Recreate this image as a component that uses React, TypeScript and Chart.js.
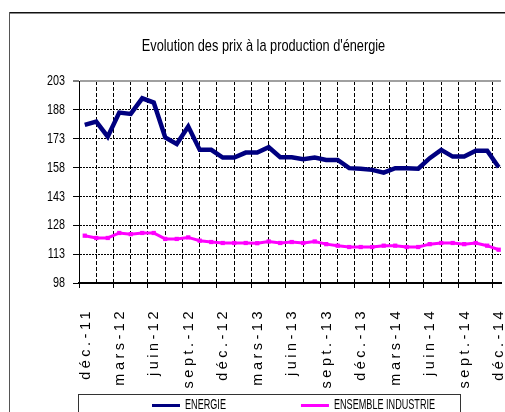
import React, { useEffect, useRef } from "react";
import { Chart, registerables } from "chart.js";

Chart.register(...registerables);

const TITLE = "Evolution des prix à la production d'énergie";

const categories = [
  "déc.-11",
  "janv.-12", "févr.-12", "mars-12", "avr.-12", "mai-12", "juin-12",
  "juil.-12", "août-12", "sept.-12", "oct.-12", "nov.-12", "déc.-12",
  "janv.-13", "févr.-13", "mars-13", "avr.-13", "mai-13", "juin-13",
  "juil.-13", "août-13", "sept.-13", "oct.-13", "nov.-13", "déc.-13",
  "janv.-14", "févr.-14", "mars-14", "avr.-14", "mai-14", "juin-14",
  "juil.-14", "août-14", "sept.-14", "oct.-14", "nov.-14", "déc.-14",
];

const energie = [
  180.2, 181.9, 174.1, 186.6, 185.9, 194.0, 191.8, 173.6, 170.3, 179.3,
  167.2, 167.2, 163.2, 163.2, 165.8, 165.8, 168.6, 163.4, 163.4, 162.4,
  163.2, 162.0, 162.0, 157.7, 157.4, 156.8, 155.4, 157.7, 157.7, 157.4,
  162.9, 167.2, 163.7, 163.7, 166.8, 166.8, 158.2,
];

const industrie = [
  122.6, 121.4, 121.4, 124.0, 123.4, 124.0, 124.0, 120.9, 120.9, 121.7,
  120.0, 119.3, 118.8, 118.8, 118.8, 118.7, 119.6, 118.8, 119.3, 118.8,
  119.6, 118.2, 117.4, 116.7, 116.7, 116.7, 117.4, 117.4, 116.7, 116.7,
  118.2, 118.8, 118.8, 118.2, 118.8, 117.4, 115.3,
];

const xTickLabels = [
  "déc.-11", "mars-12", "juin-12", "sept.-12", "déc.-12", "mars-13", "juin-13",
  "sept.-13", "déc.-13", "mars-14", "juin-14", "sept.-14", "déc.-14",
];

const yTicks = [98, 113, 128, 143, 158, 173, 188, 203];

const FONT = "'Liberation Sans', Arial, Helvetica, sans-serif";
const X_LABEL_SIZE = 14.5;
const LETTER_SPACING = "3.5px";
const SQUEEZE: Record<string, number> = { "17": 0.75, "15": 0.72, "14": 0.65 };

function fontSizeOf(ctx: any): string {
  const m = /(\d+(?:\.\d+)?)px/.exec(ctx.font);
  return m ? m[1] : "";
}

function patchContext(ctx: any) {
  if (ctx.__patched) return;
  ctx.__patched = true;
  const fill = ctx.fillText.bind(ctx);
  const measure = ctx.measureText.bind(ctx);
  ctx.measureText = (text: string) => {
    const s = fontSizeOf(ctx);
    if (s === String(X_LABEL_SIZE)) {
      const prev = ctx.letterSpacing;
      ctx.letterSpacing = LETTER_SPACING;
      const r = measure(text);
      ctx.letterSpacing = prev;
      return r;
    }
    const f = SQUEEZE[s];
    const r = measure(text);
    if (!f) return r;
    return {
      width: r.width * f,
      actualBoundingBoxAscent: r.actualBoundingBoxAscent,
      actualBoundingBoxDescent: r.actualBoundingBoxDescent,
      actualBoundingBoxLeft: r.actualBoundingBoxLeft * f,
      actualBoundingBoxRight: r.actualBoundingBoxRight * f,
      fontBoundingBoxAscent: r.fontBoundingBoxAscent,
      fontBoundingBoxDescent: r.fontBoundingBoxDescent,
    };
  };
  ctx.fillText = (text: string, x: number, y: number, maxWidth?: number) => {
    const s = fontSizeOf(ctx);
    if (s === String(X_LABEL_SIZE)) {
      const prev = ctx.letterSpacing;
      ctx.letterSpacing = LETTER_SPACING;
      if (maxWidth === undefined) fill(text, x, y);
      else fill(text, x, y, maxWidth);
      ctx.letterSpacing = prev;
      return;
    }
    const f = SQUEEZE[s];
    if (!f) {
      if (maxWidth === undefined) fill(text, x, y);
      else fill(text, x, y, maxWidth);
      return;
    }
    ctx.save();
    ctx.translate(x, y);
    ctx.scale(f, 1);
    if (maxWidth === undefined) fill(text, 0, 0);
    else fill(text, 0, 0, maxWidth / f);
    ctx.restore();
  };
}

const framePlugin = {
  id: "frame",
  beforeDraw(chart: any) {
    const { ctx, width, height } = chart;
    ctx.save();
    ctx.fillStyle = "#ffffff";
    ctx.fillRect(0, 0, width, height);
    ctx.strokeStyle = "#111";
    ctx.lineWidth = 1.5;
    ctx.beginPath();
    ctx.moveTo(9, 12.75);
    ctx.lineTo(width, 12.75);
    ctx.stroke();
    ctx.strokeStyle = "#555";
    ctx.lineWidth = 1;
    ctx.beginPath();
    ctx.moveTo(9.5, 12);
    ctx.lineTo(9.5, height);
    ctx.stroke();
    ctx.restore();
  },
};

const legendBoxPlugin = {
  id: "legendBox",
  afterDraw(chart: any) {
    const { ctx, chartArea } = chart;
    const top = chart.scales.x.bottom;
    ctx.save();
    ctx.strokeStyle = "#333";
    ctx.lineWidth = 1;
    ctx.strokeRect(Math.round(chartArea.left) - 0.5, Math.round(top) + 0.5, 382, 40);
    ctx.font = "14px " + FONT;
    ctx.textBaseline = "middle";
    ctx.textAlign = "left";
    let x = chartArea.left + 73;
    const y = top + 11.5;
    chart.data.datasets.forEach((ds: any) => {
      ctx.strokeStyle = ds.borderColor;
      ctx.lineWidth = 3;
      ctx.beginPath();
      ctx.moveTo(x, y);
      ctx.lineTo(x + 28, y);
      ctx.stroke();
      ctx.fillStyle = "#000";
      ctx.fillText(ds.label, x + 33, y);
      x += 33 + ctx.measureText(ds.label).width + 75;
    });
    ctx.restore();
  },
};

export default function App() {
  const ref = useRef<HTMLCanvasElement>(null);

  useEffect(() => {
    const canvas = ref.current!;
    const ctx = canvas.getContext("2d")!;
    patchContext(ctx);

    const xGrid: number[] = [];
    for (let v = -0.5; v <= 36; v += 1.5) xGrid.push(v);

    const chart = new Chart(ctx, {
      type: "line",
      data: {
        datasets: [
          {
            label: "ENERGIE",
            data: energie.map((v, i) => ({ x: i, y: v })),
            borderColor: "#000080",
            backgroundColor: "#000080",
            borderWidth: 4.5,
            pointRadius: 0,
            tension: 0,
          },
          {
            label: "ENSEMBLE INDUSTRIE",
            data: industrie.map((v, i) => ({ x: i, y: v })),
            borderColor: "#ff00ff",
            backgroundColor: "#ff00ff",
            borderWidth: 3,
            pointStyle: "rect",
            pointRadius: 3,
            pointBorderWidth: 0,
            pointBackgroundColor: "#ff00ff",
            tension: 0,
          },
        ],
      },
      options: {
        responsive: false,
        animation: false,
        devicePixelRatio: 1,
        layout: { padding: { left: 22, right: 0, top: 0, bottom: 18 } },
        plugins: {
          legend: { display: false },
          tooltip: { enabled: false },
          title: {
            display: true,
            text: TITLE,
            color: "#000",
            font: { family: FONT, size: 17, weight: "normal" },
            padding: { top: 35.8, bottom: 24.8 },
          },
        },
        scales: {
          x: {
            type: "linear",
            min: -0.5,
            max: 36.2,
            afterBuildTicks: (s: any) => {
              s.ticks = xGrid.map((v) => ({ value: v }));
            },
            afterFit: (s: any) => {
              s.paddingLeft = 0;
              s.paddingRight = 0;
              s.height = 111;
            },
            ticks: {
              autoSkip: false,
              minRotation: 90,
              maxRotation: 90,
              padding: 20,
              labelOffset: 6.5,
              color: "#000",
              font: { family: FONT, size: X_LABEL_SIZE },
              callback: (_v: any, i: number) =>
                i % 2 === 0 ? xTickLabels[i / 2] ?? "" : "",
            },
            grid: {
              color: "#000",
              lineWidth: 1,
              tickLength: 5,
              tickWidth: 1,
              tickColor: (c: any) => (c.index % 2 === 0 ? "#000" : "rgba(0,0,0,0)"),
            },
            border: { color: "#000", width: 2, dash: [4, 2] },
          },
          y: {
            type: "linear",
            min: 98,
            max: 203,
            afterBuildTicks: (s: any) => {
              s.ticks = yTicks.map((v) => ({ value: v }));
            },
            afterFit: (s: any) => {
              s.width = 57;
            },
            ticks: {
              color: "#000",
              padding: 8,
              font: { family: FONT, size: 15 },
            },
            grid: {
              color: (c: any) => (c.tick && c.tick.value === 203 ? "#a0a0a0" : "#000"),
              lineWidth: (c: any) => (c.tick && c.tick.value === 203 ? 2 : 1),
              tickLength: 6,
              tickWidth: 1,
              tickColor: "#000",
            },
            border: {
              color: "#000",
              width: 1,
              dash: (c: any) => (c.tick && c.tick.value === 203 ? [] : [2, 1]),
            },
          },
        },
      },
      plugins: [framePlugin, legendBoxPlugin],
    } as any);

    return () => chart.destroy();
  }, []);

  return (
    <canvas
      ref={ref}
      width={505}
      height={412}
      style={{ position: "fixed", left: 0, top: 0, width: 505, height: 412 }}
    />
  );
}
